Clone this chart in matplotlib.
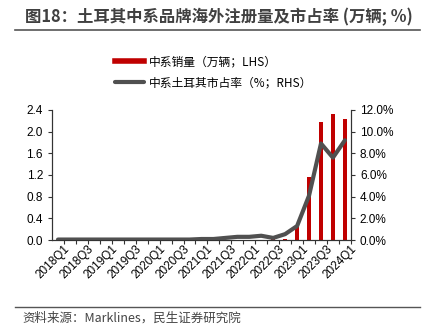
import matplotlib.pyplot as plt
from matplotlib.lines import Line2D
from matplotlib.transforms import ScaledTranslation

plt.rcParams['font.family'] = ['Liberation Sans', 'Noto Sans CJK SC', 'DejaVu Sans']

quarters = [f'{y}Q{q}' for y in range(2018, 2024) for q in range(1, 5)] + ['2024Q1']
sales = [0.0, 0.0, 0.0, 0.0, 0.0, 0.0, 0.0, 0.0,
         0.0, 0.0, 0.0, 0.0, 0.0, 0.0, 0.0, 0.0,
         0.0, 0.0, 0.03, 0.02, 0.24, 1.16, 2.18, 2.32, 2.23]
share = [0.05, 0.05, 0.05, 0.05, 0.05, 0.05, 0.05, 0.05,
         0.05, 0.05, 0.05, 0.05, 0.1, 0.1, 0.2, 0.3,
         0.3, 0.4, 0.2, 0.55, 1.3, 4.1, 8.9, 7.6, 9.2]

cjk = ['Noto Sans CJK SC', 'DejaVu Sans']

fig = plt.figure(figsize=(4.3, 3.33), dpi=100)
ax = fig.add_axes([0.121, 0.279, 0.695, 0.391])
ax2 = ax.twinx()

x = list(range(len(quarters)))
ax.bar(x, sales, width=0.35, color='#C00000', zorder=2)
ax2.plot(x, share, color='#505050', lw=3, solid_capstyle='round', zorder=3)
ax.set_zorder(1)
ax2.set_zorder(2)
ax.patch.set_visible(False)

ax.set_xlim(-0.5, len(quarters) - 0.5)
ax.set_ylim(0, 2.4)
ax.set_yticks([0, 0.4, 0.8, 1.2, 1.6, 2.0, 2.4])
ax.set_yticklabels([f'{v:.1f}' for v in [0, 0.4, 0.8, 1.2, 1.6, 2.0, 2.4]])
ax2.set_ylim(0, 12)
ax2.set_yticks([0, 2, 4, 6, 8, 10, 12])
ax2.set_yticklabels([f'{v:.1f}%' for v in [0, 2, 4, 6, 8, 10, 12]])

ax.set_xticks([i + 0.5 for i in x], minor=False)
ax.set_xticks(x[::2], labels=quarters[::2], minor=True)
ax.set_xticklabels([], minor=False)
ax.tick_params(axis='x', which='major', length=3, direction='out', color='#333333')
ax.tick_params(axis='x', which='minor', length=0, labelsize=8.5, rotation=45, pad=0)
shift = ScaledTranslation(4 / 72, -2 / 72, fig.dpi_scale_trans)
for lab in ax.get_xticklabels(minor=True):
    lab.set_ha('right')
    lab.set_va('top')
    lab.set_rotation_mode('anchor')
    lab.set_transform(lab.get_transform() + shift)
ax.tick_params(axis='y', labelsize=8.5, length=3, color='#333333')
ax2.tick_params(axis='y', labelsize=8.5, length=3, color='#333333')

for a in (ax, ax2):
    a.spines['top'].set_visible(False)
    for s in ('left', 'right', 'bottom'):
        a.spines[s].set_color('#333333')

handles = [Line2D([], [], color='#C00000', lw=4),
           Line2D([], [], color='#505050', lw=3, solid_capstyle='round')]
fig.legend(handles, ['中系销量（万辆；LHS）', '中系土耳其市占率（%；RHS）'],
           loc='upper left', bbox_to_anchor=(0.267, 0.835), frameon=False,
           handlelength=2.5, labelspacing=0.7, handletextpad=0.35,
           borderpad=0, borderaxespad=0,
           prop={'family': cjk, 'size': 8.5})

fig.text(0.058, 0.949, '图18：土耳其中系品牌海外注册量及市占率 (万辆; %)',
         fontsize=11.8, fontweight='bold', color='#404040', family=cjk, va='center')
fig.add_artist(Line2D([0.035, 0.977], [0.91, 0.91], color='#555555', lw=1.2))
fig.add_artist(Line2D([0.035, 0.977], [0.078, 0.078], color='#555555', lw=1))
fig.text(0.053, 0.045, '资料来源：Marklines，民生证券研究院', fontsize=9, color='#444444',
         family=cjk, va='center')

fig.savefig('out.png', dpi=100)
